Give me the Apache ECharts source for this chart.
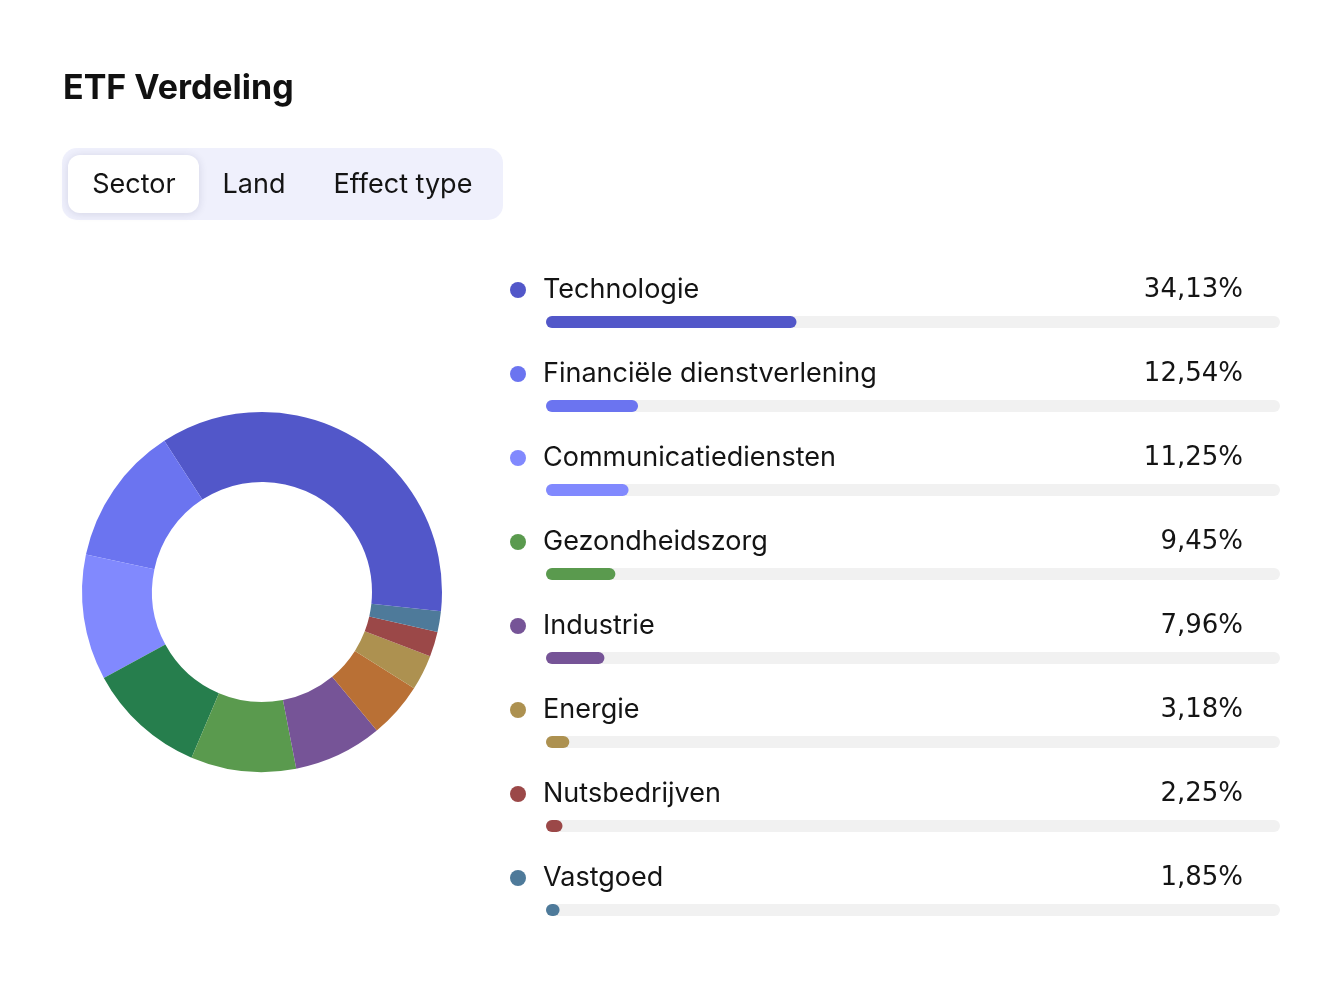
<!DOCTYPE html>
<html>
<head>
<meta charset="utf-8">
<script src="https://cdn.jsdelivr.net/npm/echarts@6/dist/echarts.min.js"></script>
<style>
  html, body { margin: 0; padding: 0; background: #ffffff; }
  #chart { width: 1336px; height: 992px; }
</style>
</head>
<body>
<div id="chart"></div>
<script>
// ---- Data ----
const titleText = 'ETF Verdeling';
const tabLabels = ['Sector', 'Land', 'Effect type'];

// Donut slices (counter-clockwise from 3 o'clock)
const pieNames = ['Technologie', 'Financiële dienstverlening', 'Communicatiediensten',
  'Consumptiegoederen cyclisch', 'Gezondheidszorg', 'Industrie',
  'Consumptiegoederen defensief', 'Energie', 'Nutsbedrijven', 'Vastgoed', 'Basismaterialen'];
const pieValues = [34.13, 12.54, 11.25, 10.68, 9.45, 7.96, 5.00, 3.18, 2.25, 1.85, 1.71];
const pieColors = ['#5257c9', '#6b74f0', '#8189fe', '#267e4d', '#5a9a4e', '#765497',
  '#b97035', '#ad9150', '#9b4848', '#4e7a9a', '#5257c9'];

// List on the right
const listNames = ['Technologie', 'Financiële dienstverlening', 'Communicatiediensten',
  'Gezondheidszorg', 'Industrie', 'Energie', 'Nutsbedrijven', 'Vastgoed'];
const listValues = [34.13, 12.54, 11.25, 9.45, 7.96, 3.18, 2.25, 1.85];

// ---- Build ----
const FONT = 'Inter, "Noto Sans", "DejaVu Sans", sans-serif';
const NUMFONT = '"DejaVu Sans", Inter, sans-serif';
const TEXT = '#141414';
const colorOf = name => pieColors[pieNames.indexOf(name)];
const fmt = v => v.toFixed(2).replace('.', ',') + '%';

const rich = {
  n: { fontFamily: FONT, fontSize: 27, color: TEXT, padding: [0, 0, 0, 17] }
};
listNames.forEach((nm, i) => {
  rich['d' + i] = { width: 16, height: 16, borderRadius: 8, backgroundColor: colorOf(nm) };
});

const chart = echarts.init(document.getElementById('chart'), null, { renderer: 'canvas' });

const tabX = [134, 254, 403];

chart.setOption({
  backgroundColor: '#ffffff',
  animation: false,
  graphic: [
    { type: 'text', x: 63, y: 89, style: { text: titleText, font: 'bold 34px ' + FONT, fill: '#111111', textAlign: 'left', textVerticalAlign: 'middle' } },
    { type: 'rect', shape: { x: 62, y: 148, width: 441, height: 72, r: 15 }, style: { fill: '#eff0fc' } },
    { type: 'rect', shape: { x: 68, y: 155, width: 131, height: 58, r: 12 },
      style: { fill: '#ffffff', shadowBlur: 8, shadowColor: 'rgba(40,40,90,0.14)', shadowOffsetY: 1 } },
    ...tabLabels.map((t, i) => ({
      type: 'text', x: tabX[i], y: 185, z: 10,
      style: { text: t, font: '27px ' + FONT, fill: TEXT, textAlign: 'center', textVerticalAlign: 'middle' }
    }))
  ],
  grid: { left: 546, right: 56, top: 280, height: 672 },
  xAxis: { type: 'value', min: 0, max: 100, show: false },
  yAxis: { type: 'category', data: listNames, inverse: true, show: false },
  series: [
    {
      type: 'pie',
      center: [262, 592],
      radius: [110, 180],
      startAngle: 0,
      clockwise: false,
      label: { show: false },
      labelLine: { show: false },
      emphasis: { disabled: true },
      data: pieNames.map((n, i) => ({ name: n, value: pieValues[i], itemStyle: { color: pieColors[i] } }))
    },
    {
      type: 'bar',
      barWidth: 12,
      showBackground: true,
      backgroundStyle: { color: '#f1f1f1', borderRadius: 6 },
      itemStyle: { borderRadius: 6 },
      data: listValues.map((v, i) => ({ value: v, itemStyle: { color: colorOf(listNames[i]) } })),
      label: {
        show: true,
        position: [-36, -26],
        verticalAlign: 'middle',
        align: 'left',
        formatter: p => '{d' + p.dataIndex + '|}{n|' + p.name + '}',
        rich: rich
      }
    },
    {
      type: 'bar',
      barWidth: 12,
      barGap: '-100%',
      itemStyle: { color: 'rgba(0,0,0,0)' },
      data: listValues,
      z: 5,
      label: {
        show: true,
        position: [697, -26],
        align: 'right',
        verticalAlign: 'middle',
        fontFamily: NUMFONT,
        fontSize: 26,
        color: TEXT,
        formatter: p => fmt(p.value)
      }
    }
  ]
});
</script>
</body>
</html>
